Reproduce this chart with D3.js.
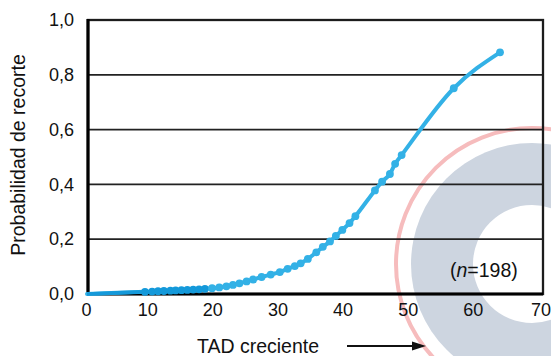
<!DOCTYPE html>
<html>
<head>
<meta charset="utf-8">
<script src="https://cdn.jsdelivr.net/npm/d3@7/dist/d3.min.js"></script>
<style>
	body { margin: 0; background: #fff; }
	svg { display: block; font-family: "Liberation Sans", Arial, sans-serif; }
</style>
</head>
<body>
<div id="box"></div>
<script>
// TAD values of the plotted points and their cut probability
const tad = [8.9, 10.0, 10.9, 11.8, 12.8, 13.6, 14.5, 15.4, 16.3, 17.2, 18.1, 19.2, 20.3, 21.4, 22.4,
	23.4, 24.5, 25.5, 26.8, 28.2, 29.6, 30.8, 31.9, 32.8, 33.9, 35.2, 36.2, 37.3, 38.2, 39.2, 40.3,
	41.2, 44.2, 45.3, 46.5, 47.3, 48.3, 56.3, 63.4];
const prob = [0.008, 0.009, 0.010, 0.011, 0.012, 0.013, 0.014, 0.015, 0.016, 0.017, 0.019, 0.021,
	0.024, 0.028, 0.033, 0.039, 0.046, 0.053, 0.062, 0.071, 0.080, 0.092, 0.102, 0.112, 0.128, 0.152,
	0.172, 0.192, 0.212, 0.234, 0.259, 0.284, 0.378, 0.410, 0.438, 0.475, 0.507, 0.751, 0.882];
// the fitted line starts flat at the origin
const lineStart = [0, 0];

const xTicks = [0, 10, 20, 30, 40, 50, 60, 70];
const yTicks = [0, 0.2, 0.4, 0.6, 0.8, 1.0];
const yTickLabels = ['0,0', '0,2', '0,4', '0,6', '0,8', '1,0'];

const xTitle = 'TAD creciente';
const yTitle = 'Probabilidad de recorte';
const nLabel = '198';

const width = 551;
const height = 356;
const marginTop = 20;
const marginRight = 8;
const marginBottom = 62;
const marginLeft = 88;

const blue = '#33b1e6';
const blueDark = '#1499da';
const font = '"Liberation Sans", Arial, sans-serif';

const x = d3.scaleLinear([0, 70], [marginLeft - 1, width - marginRight]);
const y = d3.scaleLinear([0, 1], [height - marginBottom, marginTop]);

const svg = d3.select('#box').append('svg')
	.attr('width', width)
	.attr('height', height)
	.attr('viewBox', [0, 0, width, height]);

// watermark logo behind the chart
const wm = svg.append('g');
const cx = 532, cy = 264;
wm.append('circle').attr('cx', cx).attr('cy', cy).attr('r', 136)
	.attr('fill', 'none').attr('stroke', '#f6bcbd').attr('stroke-width', 4);
wm.append('circle').attr('cx', cx).attr('cy', cy).attr('r', 121)
	.attr('fill', '#cdd5e0');
wm.append('circle').attr('cx', cx).attr('cy', cy).attr('r', 59)
	.attr('fill', '#fff');

// grid lines
svg.append('g')
	.selectAll('line')
	.data(yTicks.filter(v => v > 0 && v < 1))
	.join('line')
	.attr('x1', marginLeft)
	.attr('x2', width - marginRight)
	.attr('y1', d => y(d))
	.attr('y2', d => y(d))
	.attr('stroke', '#222')
	.attr('stroke-width', 1.7);

// frame
svg.append('rect')
	.attr('x', marginLeft)
	.attr('y', marginTop)
	.attr('width', width - marginRight - marginLeft)
	.attr('height', height - marginBottom - marginTop)
	.attr('fill', 'none')
	.attr('stroke', '#1c1c1c')
	.attr('stroke-width', 2.3);

const xAxis = d3.axisBottom(x).tickValues(xTicks).tickSize(0).tickPadding(9);
const yAxis = d3.axisLeft(y).tickValues(yTicks).tickSize(0).tickPadding(14)
	.tickFormat((d, i) => yTickLabels[i]);

svg.append('g')
	.attr('transform', `translate(0,${height - marginBottom})`)
	.call(xAxis)
	.call(g => g.select('.domain').attr('stroke', '#000').attr('stroke-width', 3.2)
		.attr('d', `M${marginLeft},0H${width - marginRight}`))
	.call(g => g.selectAll('text').attr('font-size', 18).attr('fill', '#111')
		.attr('font-family', font)
		.attr('dx', d => d === 0 ? -1 : d === 70 ? -2.5 : -5));

svg.append('g')
	.attr('transform', `translate(${marginLeft},0)`)
	.call(yAxis)
	.call(g => g.select('.domain').attr('stroke', '#000').attr('stroke-width', 3.2)
		.attr('d', `M0,${marginTop - 1}V${height - marginBottom + 1}`))
	.call(g => g.selectAll('text').attr('font-size', 18).attr('fill', '#111')
		.attr('font-family', font));

// axis titles
svg.append('text')
	.attr('transform', `translate(25,${(marginTop + height - marginBottom) / 2 - 2}) rotate(-90)`)
	.attr('text-anchor', 'middle')
	.attr('font-size', 19.5)
	.attr('fill', '#111')
	.text(yTitle);

svg.append('text')
	.attr('x', 258)
	.attr('y', 353)
	.attr('text-anchor', 'middle')
	.attr('font-size', 19.5)
	.attr('fill', '#111')
	.text(xTitle);

// arrow after the x title
svg.append('line')
	.attr('x1', 347).attr('x2', 416)
	.attr('y1', 346).attr('y2', 346)
	.attr('stroke', '#111').attr('stroke-width', 2);
svg.append('path')
	.attr('d', 'M426,346L412,341.5L412,350.5Z')
	.attr('fill', '#111');

// (n=198)
const nt = svg.append('text')
	.attr('x', 450)
	.attr('y', 277)
	.attr('font-size', 19.5)
	.attr('fill', '#111');
nt.append('tspan').text('(');
nt.append('tspan').attr('font-style', 'italic').text('n');
nt.append('tspan').text('=' + nLabel + ')');

// fitted curve
const pts = [lineStart, ...tad.map((t, i) => [t, prob[i]])];
const line = d3.line()
	.curve(d3.curveMonotoneX)
	.x(d => x(d[0]))
	.y(d => y(d[1]));

svg.append('path')
	.attr('fill', 'none')
	.attr('stroke', blue)
	.attr('stroke-width', 4)
	.attr('stroke-linecap', 'round')
	.attr('stroke-linejoin', 'round')
	.attr('d', line(pts));

svg.append('path')
	.attr('fill', 'none')
	.attr('stroke', blueDark)
	.attr('stroke-width', 3.6)
	.attr('d', line(pts.filter(d => d[0] < 19)));

svg.append('g')
	.selectAll('circle')
	.data(tad)
	.join('circle')
	.attr('cx', d => x(d))
	.attr('cy', (d, i) => y(prob[i]))
	.attr('r', 3.9)
	.attr('fill', d => d < 19 ? blueDark : blue);
</script>
</body>
</html>
